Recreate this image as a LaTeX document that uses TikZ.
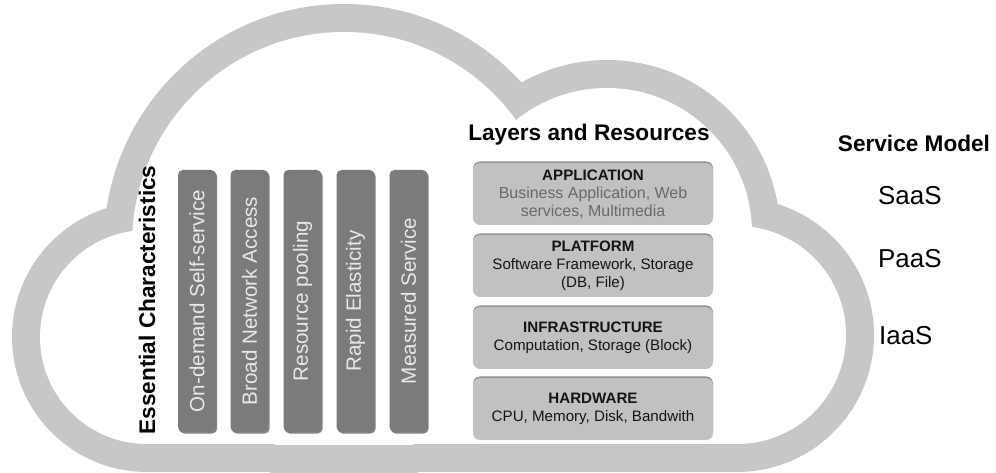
\documentclass[tikz,border=0pt]{standalone}
\usepackage{fontspec}
\setmainfont{Liberation Sans}
\usetikzlibrary{shadows}
\definecolor{cloudgray}{RGB}{199,199,199}
\definecolor{bargray}{RGB}{123,123,123}
\definecolor{barshade}{RGB}{80,80,80}
\definecolor{bartextc}{RGB}{232,232,232}
\definecolor{layergray}{RGB}{193,193,193}
\definecolor{layershade}{RGB}{140,140,140}
\definecolor{descgray}{RGB}{105,105,105}
\definecolor{inkc}{RGB}{20,20,20}
\begin{document}
\begin{tikzpicture}[x=1bp,y=-1bp,
  bar/.style={fill=bargray, rounded corners=5bp, minimum width=38bp,
    minimum height=262bp, inner sep=0pt,
    drop shadow={shadow xshift=1.2bp, shadow yshift=-1.5bp, fill=barshade, opacity=0.7}},
  bartext/.style={rotate=90, text=bartextc, font=\fontsize{20.7}{24}\selectfont, inner sep=0pt},
  layer/.style={fill=layergray, rounded corners=7bp, minimum width=240bp,
    minimum height=62bp, inner sep=0pt, align=center,
    font=\fontsize{15.2}{18}\selectfont, text=inkc,
    drop shadow={shadow xshift=0bp, shadow yshift=1.5bp, fill=layershade, opacity=1}},
  heading/.style={font=\bfseries\fontsize{22.7}{26}\selectfont, text=black, inner sep=0pt},
  model/.style={font=\fontsize{26}{30}\selectfont, text=black, anchor=base west, inner sep=0pt},
]
\useasboundingbox (0,0) rectangle (996,473);

% cloud outline: outer lobes in grey, inner lobes cut out in white
\begin{scope}
  \clip (0,0) rectangle (996,472);
  \fill[cloudgray] (147,337) circle[radius=135];
  \fill[cloudgray] (344,244) circle[radius=240];
  \fill[cloudgray] (607,233) circle[radius=173];
  \fill[cloudgray] (737,335) circle[radius=137];
  \fill[cloudgray] (147,250) rectangle (737,472);
\end{scope}
\begin{scope}
  \clip (0,0) rectangle (996,444);
  \fill[white] (147,337) circle[radius=107];
  \fill[white] (344,244) circle[radius=212];
  \fill[white] (607,233) circle[radius=145];
  \fill[white] (737,335) circle[radius=109];
  \fill[white] (147,250) rectangle (737,444);
\end{scope}

% essential characteristics
\node[heading, rotate=90] (ec) at (147,300) {Essential Characteristics};
\node[bar] (b1) at (197,301) {};
\node[bar] (b2) at (249.5,301) {};
\node[bar] (b3) at (302.5,301) {};
\node[bar] (b4) at (355.5,301) {};
\node[bar] (b5) at (408.5,301) {};
\node[bartext] (t1) at (b1) {On-demand Self-service};
\node[bartext] (t2) at (b2) {Broad Network Access};
\node[bartext] (t3) at (b3) {Resource pooling};
\node[bartext] (t4) at (b4) {Rapid Elasticity};
\node[bartext] (t5) at (b5) {Measured Service};

% layers and resources
\node[heading, anchor=base] (lr) at (589,141) {Layers and Resources};
\node[layer] (app) at (593,194) {\textbf{APPLICATION}\\{\fontsize{16}{18}\selectfont\textcolor{descgray}{Business Application, Web}}\\{\fontsize{16}{18}\selectfont\textcolor{descgray}{services, Multimedia}}};
\node[layer] (plat) at (593,266) {\textbf{PLATFORM}\\Software Framework, Storage\\(DB, File)};
\node[layer] (infra) at (593,338) {\textbf{INFRASTRUCTURE}\\Computation, Storage (Block)};
\node[layer] (hw) at (593,409) {\textbf{HARDWARE}\\CPU, Memory, Disk, Bandwith};

% service model
\node[heading, anchor=base] (sm) at (914,152) {Service Model};
\node[model] (saas) at (878,205) {SaaS};
\node[model] (paas) at (878,268) {PaaS};
\node[model] (iaas) at (879,345) {IaaS};
\end{tikzpicture}
\end{document}
